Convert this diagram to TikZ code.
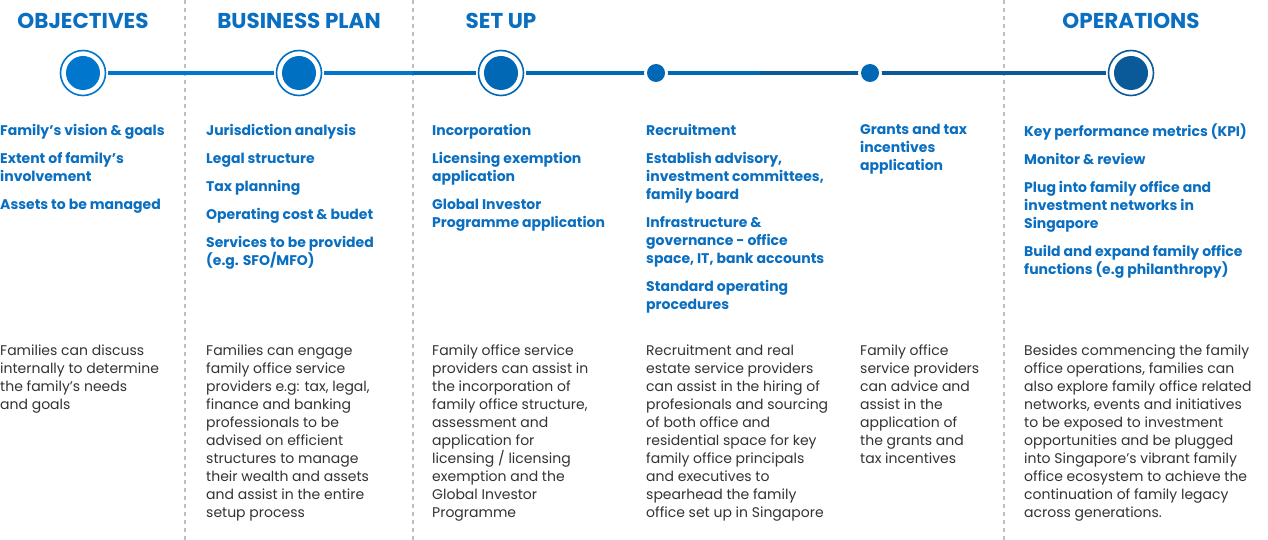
\documentclass[tikz,border=0pt]{standalone}
\usepackage{fontspec}
\setmainfont{Poppins}
\definecolor{tb}{HTML}{0A6FC0}
\definecolor{c1}{HTML}{0077CC}
\definecolor{c2}{HTML}{0070C2}
\definecolor{c3}{HTML}{0068B4}
\definecolor{c4}{HTML}{0A5A9A}
\definecolor{gr}{HTML}{333333}
\tikzset{
 ttl/.style={anchor=base,font=\fontsize{21.5}{21}\selectfont\bfseries,text=tb,inner sep=0},
 itm/.style={anchor=north west,align=left,font=\fontsize{14}{18}\selectfont\bfseries,text=tb,inner sep=0},
 bdy/.style={anchor=north west,align=left,font=\fontsize{14}{18}\selectfont,text=gr,inner sep=0},
 sep/.style={draw=gray!50,line width=1.5pt,dash pattern=on 4pt off 4pt},
}
\newcommand{\bigdot}[3]{\fill[white] (#1,73) circle (25);\draw[#2,line width=1.6pt] (#1,73) circle (22.5);\fill[#2] (#1,73) circle (17);\node[inner sep=0,minimum size=46pt,circle] (#3) at (#1,73) {};}
\newcommand{\smdot}[3]{\fill[white] (#1,73) circle (12);\fill[#2] (#1,73) circle (9);\node[inner sep=0,minimum size=18pt,circle] (#3) at (#1,73) {};}
\begin{document}
\begin{tikzpicture}[x=1pt,y=-1pt]
\useasboundingbox (0,0) rectangle (1268,540);
\fill[white] (0,0) rectangle (1268,540);
\foreach \x in {185,413,1004} \draw[sep] (\x,0) -- (\x,540);
\draw[c1,line width=4pt] (83,73) -- (413,73);
\draw[c3,line width=4pt] (413,73) -- (760,73);
\draw[c4,line width=4pt] (760,73) -- (1131,73);
\bigdot{83}{c1}{n1}
\bigdot{299}{c2}{n2}
\bigdot{501}{c3}{n3}
\smdot{656}{c3}{n4}
\smdot{870}{c3}{n5}
\bigdot{1131}{c4}{n6}
\node[ttl] (t1) at (83,29) {OBJECTIVES};
\node[ttl] (t2) at (299,29) {BUSINESS PLAN};
\node[ttl] (t3) at (501,29) {SET UP};
\node[ttl] (t6) at (1131,29) {OPERATIONS};
\node[itm] (i1) at (0,124) {Family's vision \& goals\\[10pt]Extent of family's\\involvement\\[10pt]Assets to be managed};
\node[itm] (i2) at (206,124) {Jurisdiction analysis\\[10pt]Legal structure\\[10pt]Tax planning\\[10pt]Operating cost \& budet\\[10pt]Services to be provided\\(e.g. SFO/MFO)};
\node[itm] (i3) at (432,124) {Incorporation\\[10pt]Licensing exemption\\application\\[10pt]Global Investor\\Programme application};
\node[itm] (i4) at (646,124) {Recruitment\\[10pt]Establish advisory,\\investment committees,\\family board\\[10pt]Infrastructure \&\\governance - office\\space, IT, bank accounts\\[10pt]Standard operating\\procedures};
\node[itm] (i5) at (860,124) {Grants and tax\\incentives\\application};
\node[itm] (i6) at (1024,124) {Key performance metrics (KPI)\\[10pt]Monitor \& review\\[10pt]Plug into family office and\\investment networks in\\Singapore\\[10pt]Build and expand family office\\functions (e.g philanthropy)};
\node[bdy] (b1) at (0,345) {Families can discuss\\internally to determine\\the family's needs\\and goals};
\node[bdy] (b2) at (206,345) {Families can engage\\family office service\\providers e.g: tax, legal,\\finance and banking\\professionals to be\\advised on efficient\\structures to manage\\their wealth and assets\\and assist in the entire\\setup process};
\node[bdy] (b3) at (432,345) {Family office service\\providers can assist in\\the incorporation of\\family office structure,\\assessment and\\application for\\licensing / licensing\\exemption and the\\Global Investor\\Programme};
\node[bdy] (b4) at (646,345) {Recruitment and real\\estate service providers\\can assist in the hiring of\\profesionals and sourcing\\of both office and\\residential space for key\\family office principals\\and executives to\\spearhead the family\\office set up in Singapore};
\node[bdy] (b5) at (860,345) {Family office\\service providers\\can advice and\\assist in the\\application of\\the grants and\\tax incentives};
\node[bdy] (b6) at (1024,345) {Besides commencing the family\\office operations, families can\\also explore family office related\\networks, events and initiatives\\to be exposed to investment\\opportunities and be plugged\\into Singapore's vibrant family\\office ecosystem to achieve the\\continuation of family legacy\\across generations.};
\end{tikzpicture}
\end{document}
